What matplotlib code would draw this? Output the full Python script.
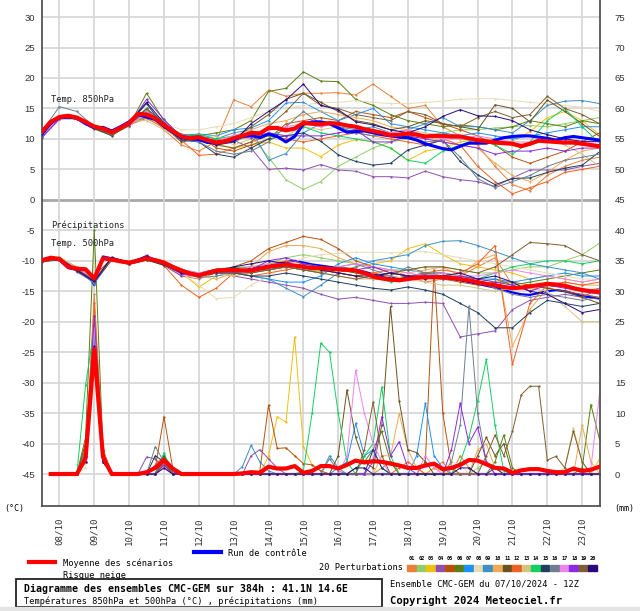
import numpy as np
import matplotlib.pyplot as plt
from matplotlib.lines import Line2D
from matplotlib.patches import Rectangle

W, H = 640, 611
MONO = 'DejaVu Sans Mono'
SANS = 'Liberation Sans'
RR_BASE = -45  # 0 mm of precipitation sits at -45 on the left scale

# time axis: hours since 07/10/2024 12Z
hours_6 = np.arange(0, 385, 6)
hours_12 = np.arange(0, 385, 12)
hours_rr = np.arange(6, 385, 6)
day_hours = np.arange(12, 384, 24)
day_labels = ['08/10', '09/10', '10/10', '11/10', '12/10', '13/10', '14/10', '15/10',
              '16/10', '17/10', '18/10', '19/10', '20/10', '21/10', '22/10', '23/10']

# ensemble mean (6h)
mean_t850 = [11.2, 12.8, 13.6, 13.8, 13.5, 12.8, 12.0, 11.7, 11.1, 11.8, 12.6, 14.1, 14.0,
             13.4, 12.3, 11.3, 10.4, 10.1, 10.3, 9.8, 9.4, 9.6, 10.1, 10.5, 11.0, 10.9,
             11.8, 11.8, 11.4, 11.7, 12.6, 12.5, 12.4, 12.6, 12.5, 12.2, 12.0, 11.6, 11.3,
             11.0, 10.6, 10.7, 10.9, 10.7, 10.4, 10.5, 10.5, 10.4, 10.4, 10.1, 9.8, 9.6,
             9.4, 9.3, 9.2, 8.8, 9.2, 9.7, 9.6, 9.5, 9.4, 9.4, 9.2, 9.0, 8.8]
mean_t500 = [-9.9, -9.5, -9.7, -11.0, -11.3, -11.4, -12.9, -9.6, -9.8, -10.1, -10.3, -10.0,
             -9.6, -9.9, -10.3, -11.0, -11.6, -12.1, -12.4, -12.0, -11.6, -11.5, -11.5,
             -11.6, -11.6, -11.3, -11.0, -10.8, -10.6, -10.8, -11.0, -11.2, -11.2, -11.3,
             -11.4, -11.5, -11.6, -12.0, -12.6, -12.9, -13.1, -13.2, -13.0, -12.8, -12.7,
             -12.7, -12.7, -12.8, -13.0, -13.2, -13.5, -13.8, -14.0, -14.3, -14.5, -14.4,
             -14.2, -14.0, -13.8, -13.9, -14.1, -14.5, -14.8, -15.0, -15.1]
mean_rr = [0, 0, 0, 0, 2.6, 20.5, 2.8, 0, 0, 0, 0, 0.3, 1.0, 2.3, 0.9, 0,
           0, 0, 0, 0, 0, 0, 0.1, 0.3, 0.2, 1.2, 0.9, 0.9, 1.3, 0.2, 0.5, 1.3,
           1.3, 0.9, 1.5, 2.2, 1.9, 2.1, 2.0, 1.7, 1.4, 1.0, 1.0, 1.4, 1.7, 0.8, 1.0, 1.5,
           2.3, 2.2, 1.6, 1.0, 0.9, 0.2, 0.6, 0.8, 0.8, 0.5, 0.3, 0.3, 0.9, 0.5, 0.7, 1.2]

# control run (6h)
ctrl_t850 = [10.8, 12.6, 13.5, 13.6, 13.4, 12.5, 11.8, 11.9, 11.3, 12.0, 12.8, 14.0, 13.6,
             13.2, 12.1, 11.1, 10.2, 10.0, 9.9, 9.4, 9.4, 9.6, 9.8, 10.4, 10.6, 10.2, 10.8,
             10.4, 9.5, 10.4, 12.4, 12.8, 12.8, 12.5, 11.8, 11.1, 11.2, 11.3, 11.0, 10.7,
             10.5, 10.3, 10.2, 9.8, 9.2, 8.8, 8.4, 8.2, 8.8, 9.3, 9.3, 9.3, 9.8, 10.2, 10.4,
             10.5, 10.5, 10.3, 10.1, 9.8, 10.2, 10.4, 10.2, 10.0, 9.8]
ctrl_t500 = [-10.0, -9.7, -9.9, -11.2, -11.5, -11.6, -14.0, -9.3, -9.6, -10.0, -10.2, -9.8,
             -9.5, -9.8, -10.2, -10.9, -11.5, -12.0, -12.2, -11.8, -11.5, -11.4, -11.4,
             -11.3, -11.2, -11.0, -10.8, -10.5, -10.2, -10.0, -10.3, -10.6, -10.8, -11.0,
             -11.2, -11.3, -11.5, -11.8, -12.2, -12.5, -12.8, -12.9, -12.7, -12.5, -12.4,
             -12.6, -12.8, -13.0, -13.2, -13.5, -13.8, -14.1, -14.4, -14.8, -15.2, -15.5,
             -15.6, -15.3, -15.0, -14.8, -15.0, -15.4, -15.8, -16.0, -16.2]
ctrl_rr = {30: 3, 36: 20, 42: 3, 84: 2, 90: 0.5}

# 20 perturbations: T850 and T500 every 12h, precipitation (hour: mm) where not zero
t850_m01 = [11.0, 13.4, 13.2, 11.8, 10.8, 12.4, 14.5, 11.5, 9.0, 8.0, 9.6, 16.4, 15.3, 18.0, 17.0, 17.5, 17.5,
            17.6, 17.2, 19.0, 17.0, 15.0, 15.5, 12.0, 10.5, 9.0, 5.5, 2.5, 1.5, 4.0, 5.5, 6.5, 7.0]
t850_m02 = [10.5, 13.3, 13.4, 12.2, 11.0, 12.2, 13.8, 12.0, 10.2, 10.0, 9.0, 9.5, 10.5, 7.0, 3.3, 1.7, 3.0,
            5.5, 7.0, 8.5, 9.5, 10.0, 10.5, 11.0, 11.5, 11.5, 11.8, 12.0, 12.2, 12.0, 12.5, 13.0, 13.5]
t850_m03 = [11.0, 13.5, 13.3, 11.8, 11.2, 12.8, 13.5, 12.0, 10.0, 9.6, 9.2, 8.5, 9.0, 9.5, 8.5, 8.5, 7.1,
            9.0, 9.9, 9.6, 8.5, 6.5, 8.0, 8.5, 9.5, 9.9, 9.8, 9.6, 11.2, 13.5, 14.5, 13.0, 10.7]
t850_m04 = [10.3, 13.2, 13.4, 12.0, 11.0, 12.3, 13.8, 12.2, 10.0, 9.8, 9.0, 9.8, 8.5, 5.0, 5.2, 4.9, 5.8,
            4.9, 4.7, 3.8, 3.8, 3.6, 4.7, 3.8, 3.3, 3.0, 2.2, 3.6, 4.9, 4.9, 4.9, 5.5, 6.0]
t850_m05 = [11.2, 13.8, 13.6, 12.2, 11.0, 12.5, 14.2, 12.5, 10.5, 10.6, 8.5, 8.0, 9.0, 10.0, 12.5, 13.0, 13.5,
            13.0, 14.5, 14.0, 13.5, 14.5, 13.5, 12.5, 11.5, 10.5, 9.0, 7.0, 6.0, 7.0, 8.0, 9.5, 11.0]
t850_m06 = [11.0, 13.5, 13.4, 11.6, 10.6, 12.2, 17.5, 13.0, 10.2, 10.5, 11.0, 11.5, 13.0, 17.8, 18.3, 21.0, 19.5,
            19.4, 16.5, 15.5, 14.0, 13.0, 12.5, 12.0, 12.3, 12.0, 11.5, 12.0, 13.0, 12.5, 12.0, 13.0, 12.5]
t850_m07 = [11.0, 13.6, 13.4, 12.1, 11.3, 12.7, 14.3, 12.6, 10.6, 10.8, 10.5, 11.5, 11.8, 13.0, 15.9, 16.0, 14.5,
            13.0, 14.0, 15.0, 12.5, 12.0, 11.5, 11.0, 10.5, 11.0, 10.5, 10.0, 10.5, 11.0, 11.5, 12.0, 12.0]
t850_m08 = [11.0, 13.2, 13.3, 11.9, 11.2, 12.5, 13.2, 12.5, 11.5, 11.5, 12.0, 12.5, 13.5, 14.5, 15.0, 15.5, 16.0,
            16.0, 16.3, 16.0, 15.8, 15.8, 16.0, 16.2, 16.5, 16.6, 16.6, 16.3, 16.0, 15.8, 15.5, 15.2, 14.5]
t850_m09 = [11.3, 13.5, 13.6, 12.3, 11.4, 12.6, 13.6, 12.4, 10.8, 10.5, 10.0, 11.0, 11.5, 6.5, 7.6, 11.0, 12.5,
            12.0, 11.5, 12.0, 11.0, 11.5, 12.5, 13.5, 12.0, 12.0, 11.5, 11.0, 13.0, 15.5, 16.2, 16.3, 15.8]
t850_m10 = [11.2, 13.7, 13.5, 12.0, 11.0, 12.4, 13.9, 12.2, 10.0, 9.8, 9.5, 10.5, 11.5, 12.5, 13.0, 14.0, 14.5,
            14.0, 13.5, 13.0, 12.0, 11.5, 10.5, 9.5, 9.0, 8.5, 6.0, 4.0, 3.0, 4.5, 6.5, 8.0, 8.5]
t850_m11 = [11.1, 13.5, 13.3, 12.0, 11.0, 12.7, 14.8, 12.0, 9.5, 10.0, 9.8, 10.0, 12.0, 14.0, 16.5, 17.5, 16.0,
            14.5, 13.0, 12.5, 11.5, 12.0, 13.0, 12.5, 12.0, 11.5, 15.6, 15.0, 12.8, 16.4, 14.5, 12.5, 10.4]
t850_m12 = [11.0, 13.3, 13.5, 12.1, 11.2, 12.3, 13.4, 11.8, 9.8, 7.3, 7.5, 8.5, 9.5, 10.5, 10.0, 9.5, 10.0,
            10.5, 11.0, 10.5, 10.0, 9.5, 9.0, 10.0, 9.0, 5.5, 3.0, 1.0, 2.0, 3.0, 4.5, 5.0, 5.5]
t850_m13 = [11.4, 13.6, 13.7, 12.3, 11.3, 12.9, 13.0, 11.5, 10.0, 10.4, 10.5, 9.0, 10.0, 11.0, 10.5, 12.0, 11.5,
            12.0, 11.0, 10.5, 10.5, 11.5, 11.0, 10.5, 10.0, 9.5, 9.5, 9.0, 9.5, 10.0, 9.0, 7.5, 5.5]
t850_m14 = [11.2, 13.8, 13.5, 12.0, 10.8, 12.5, 14.8, 13.0, 10.5, 10.8, 10.0, 10.5, 11.0, 10.5, 11.5, 12.0, 11.0,
            10.5, 10.0, 9.5, 8.5, 6.5, 6.0, 8.0, 9.0, 10.0, 9.0, 7.5, 9.5, 13.0, 15.0, 12.0, 9.3]
t850_m15 = [11.0, 13.5, 13.4, 11.8, 10.5, 12.6, 15.8, 12.0, 9.8, 9.5, 7.5, 7.0, 8.5, 10.0, 10.5, 11.0, 9.6,
            7.4, 6.3, 5.7, 6.0, 8.2, 9.0, 9.8, 6.3, 4.1, 2.5, 3.5, 3.6, 4.5, 5.2, 5.7, 7.9]
t850_m16 = [11.3, 15.3, 14.5, 12.0, 10.8, 12.5, 15.0, 12.5, 10.0, 9.5, 8.0, 7.5, 8.0, 9.5, 12.0, 14.5, 12.5,
            12.0, 11.0, 10.5, 11.0, 10.5, 9.5, 9.8, 7.0, 3.5, 2.0, 3.0, 4.0, 5.5, 6.5, 7.0, 7.5]
t850_m17 = [10.8, 13.4, 13.6, 12.2, 11.2, 12.0, 14.5, 12.7, 10.6, 10.2, 9.6, 10.6, 11.0, 11.5, 12.0, 12.5, 12.0,
            12.5, 12.0, 11.5, 11.0, 11.5, 10.5, 10.0, 10.0, 10.5, 10.0, 9.5, 9.5, 10.0, 9.8, 9.5, 9.5]
t850_m18 = [10.2, 13.3, 13.5, 12.0, 11.1, 12.3, 16.5, 13.2, 10.3, 10.0, 9.5, 10.2, 10.2, 11.0, 10.5, 10.5, 10.5,
            11.0, 11.5, 9.5, 9.5, 10.5, 10.0, 9.5, 9.0, 8.5, 7.5, 8.0, 8.0, 8.5, 8.0, 8.5, 8.5]
t850_m19 = [11.1, 13.6, 13.4, 12.0, 10.6, 12.2, 15.0, 12.5, 10.3, 10.0, 9.0, 8.5, 9.5, 12.0, 14.5, 17.5, 15.5,
            15.0, 14.0, 13.5, 13.0, 14.5, 14.0, 12.5, 12.0, 13.5, 14.5, 13.5, 14.0, 17.0, 15.0, 14.0, 12.5]
t850_m20 = [11.0, 13.7, 13.6, 12.1, 11.3, 12.7, 16.0, 12.6, 10.2, 10.0, 9.0, 9.5, 12.5, 14.5, 16.4, 19.0, 15.5,
            14.8, 12.8, 12.3, 11.5, 11.0, 12.0, 13.7, 14.8, 13.8, 13.7, 13.0, 11.5, 10.7, 10.0, 9.6, 9.6]

t500_m01 = [-10.0, -9.5, -11.5, -13.5, -9.5, -10.5, -9.5, -10.5, -12.5, -13.0, -12.0, -11.0, -11.5, -10.5, -10.0, -10.5, -11.0,
            -12.0, -12.5, -12.0, -11.5, -12.5, -13.5, -13.0, -12.5, -11.0, -9.5, -14.0, -15.0, -13.5, -14.0, -15.0, -14.5]
t500_m02 = [-9.8, -9.6, -11.0, -13.0, -9.7, -10.2, -9.8, -10.5, -11.5, -12.0, -11.5, -11.0, -11.0, -10.5, -9.5, -9.0, -9.5,
            -10.0, -10.5, -11.0, -11.5, -11.5, -11.0, -11.0, -11.5, -12.0, -12.0, -11.5, -11.0, -11.0, -10.0, -9.0, -7.1]
t500_m03 = [-10.1, -9.6, -11.4, -13.2, -9.8, -10.4, -9.7, -10.6, -12.0, -14.3, -12.5, -12.0, -11.5, -11.0, -11.0, -11.5, -11.8,
            -11.5, -11.0, -10.5, -10.0, -8.0, -7.2, -9.0, -10.5, -11.0, -11.5, -12.0, -13.0, -12.5, -13.0, -13.5, -13.0]
t500_m04 = [-10.2, -9.8, -11.8, -13.6, -9.9, -10.6, -9.5, -10.8, -12.5, -12.5, -12.0, -12.5, -13.0, -13.5, -14.0, -14.5, -15.5,
            -16.3, -16.0, -16.5, -17.0, -17.0, -16.8, -17.0, -22.5, -22.0, -21.5, -18.0, -16.5, -16.0, -15.5, -16.0, -14.5]
t500_m05 = [-9.9, -9.5, -11.5, -12.5, -9.6, -10.4, -9.3, -10.2, -11.5, -12.5, -12.0, -11.0, -10.0, -8.0, -7.0, -6.0, -6.5,
            -8.0, -10.0, -11.0, -12.0, -12.5, -12.5, -13.0, -13.5, -14.0, -13.5, -13.5, -14.0, -14.5, -15.0, -15.5, -16.0]
t500_m06 = [-9.8, -9.4, -11.2, -13.0, -9.6, -10.1, -9.6, -10.4, -11.8, -12.2, -11.8, -11.5, -11.0, -11.5, -11.0, -10.5, -11.0,
            -11.5, -12.0, -12.5, -12.0, -12.5, -13.0, -12.5, -13.0, -13.5, -13.0, -14.0, -13.5, -13.0, -12.5, -12.0, -11.5]
t500_m07 = [-10.0, -9.8, -11.3, -13.8, -9.5, -10.3, -9.4, -10.5, -11.5, -12.0, -11.5, -11.8, -12.5, -13.0, -13.5, -13.5, -12.5,
            -10.5, -9.5, -10.5, -11.0, -11.5, -12.0, -12.0, -12.5, -13.0, -13.0, -13.5, -13.0, -12.5, -12.0, -12.5, -12.5]
t500_m08 = [-9.7, -9.4, -11.0, -12.8, -10.0, -10.0, -9.5, -10.0, -12.0, -14.0, -16.2, -16.0, -14.0, -12.5, -11.0, -9.5, -9.0,
            -8.8, -8.6, -8.6, -8.7, -8.6, -8.5, -9.0, -9.5, -10.0, -10.5, -11.0, -11.5, -12.0, -12.5, -13.0, -13.0]
t500_m09 = [-9.8, -9.6, -11.3, -13.0, -9.7, -10.2, -9.4, -10.2, -11.8, -12.8, -12.5, -12.0, -12.5, -13.0, -14.5, -15.9, -14.0,
            -12.0, -11.0, -10.0, -9.5, -9.0, -7.5, -6.8, -6.7, -7.5, -8.5, -9.5, -10.5, -11.0, -11.5, -12.0, -13.0]
t500_m10 = [-9.8, -9.6, -11.0, -13.0, -9.8, -10.5, -9.5, -10.0, -11.5, -12.5, -13.0, -12.0, -11.0, -8.5, -7.5, -7.5, -8.0,
            -9.5, -10.5, -11.0, -11.5, -12.0, -11.5, -11.0, -12.5, -10.0, -9.0, -24.0, -18.0, -14.5, -13.5, -14.0, -14.0]
t500_m11 = [-10.0, -9.7, -11.6, -13.3, -9.9, -10.5, -9.8, -10.6, -11.8, -12.5, -12.0, -11.8, -11.5, -11.0, -10.5, -11.0, -11.5,
            -12.0, -12.5, -13.0, -13.0, -12.5, -12.0, -12.5, -13.0, -13.5, -14.0, -14.5, -14.0, -14.5, -15.0, -16.0, -17.0]
t500_m12 = [-10.2, -9.8, -11.2, -13.5, -9.5, -10.2, -9.8, -10.8, -14.0, -16.0, -14.5, -12.0, -12.5, -12.0, -11.5, -11.0, -11.5,
            -12.0, -12.5, -12.0, -12.5, -13.0, -12.0, -11.5, -12.0, -10.5, -7.5, -27.0, -17.0, -14.0, -13.5, -14.0, -13.5]
t500_m13 = [-9.9, -9.5, -11.1, -12.7, -9.9, -10.3, -9.7, -10.1, -11.4, -12.0, -12.0, -12.5, -12.0, -11.5, -11.0, -11.5, -12.0,
            -12.5, -13.0, -13.0, -12.5, -13.0, -13.5, -14.0, -14.0, -14.5, -15.0, -14.5, -14.5, -15.0, -17.5, -20.0, -20.0]
t500_m14 = [-10.0, -9.6, -11.5, -13.2, -9.7, -10.4, -9.5, -10.4, -11.6, -12.3, -11.5, -11.0, -11.5, -11.5, -11.0, -11.5, -11.5,
            -11.0, -11.5, -12.5, -13.5, -13.0, -12.5, -12.0, -12.5, -13.0, -12.0, -11.0, -10.5, -10.0, -10.0, -10.5, -10.0]
t500_m15 = [-10.1, -9.8, -11.7, -13.4, -9.8, -10.6, -9.9, -10.7, -12.0, -12.5, -12.0, -12.0, -12.5, -12.5, -12.0, -12.5, -13.0,
            -13.5, -14.0, -14.5, -14.8, -14.3, -14.8, -15.5, -17.0, -18.5, -21.0, -21.0, -18.5, -16.5, -17.0, -17.5, -17.0]
t500_m16 = [-9.9, -9.5, -11.4, -13.1, -9.6, -10.2, -9.6, -10.3, -11.7, -12.2, -11.8, -11.5, -12.0, -11.5, -11.0, -11.5, -12.0,
            -11.0, -10.5, -11.5, -12.5, -11.0, -12.0, -12.0, -13.0, -13.5, -14.5, -15.5, -16.0, -15.5, -16.0, -16.5, -16.0]
t500_m17 = [-10.0, -9.7, -11.2, -13.0, -9.8, -10.3, -9.7, -10.2, -11.5, -12.0, -11.5, -11.5, -11.0, -10.5, -10.5, -11.0, -11.5,
            -11.0, -10.5, -11.0, -11.5, -12.0, -12.5, -12.0, -12.5, -12.5, -12.0, -11.5, -12.0, -12.5, -13.0, -13.5, -13.0]
t500_m18 = [-10.1, -9.6, -11.5, -13.3, -9.5, -10.4, -9.1, -10.4, -12.2, -12.5, -12.0, -12.0, -11.5, -10.0, -9.5, -10.5, -11.0,
            -11.5, -11.5, -11.0, -12.0, -12.5, -12.5, -13.0, -12.5, -13.0, -13.5, -14.0, -15.0, -14.0, -14.5, -15.0, -15.5]
t500_m19 = [-10.0, -9.8, -11.5, -13.2, -9.8, -10.5, -9.8, -10.5, -11.5, -12.5, -12.0, -12.0, -12.0, -11.5, -11.0, -11.5, -12.0,
            -12.5, -13.0, -12.5, -12.0, -11.5, -11.0, -11.0, -11.5, -12.0, -11.0, -9.0, -7.0, -7.2, -7.5, -9.0, -10.0]
t500_m20 = [-10.0, -9.6, -11.5, -13.4, -9.4, -10.3, -9.2, -10.6, -12.0, -12.3, -11.8, -11.0, -10.5, -10.0, -10.5, -11.0, -11.5,
            -12.0, -12.5, -12.5, -12.0, -12.5, -13.0, -12.5, -12.0, -13.0, -12.5, -13.5, -15.0, -15.5, -17.0, -18.5, -18.0]

rr_m01 = {30: 3, 36: 29.5, 42: 3, 78: 1.5, 84: 3, 90: 0.5, 234: 1, 240: 2, 270: 1, 276: 2, 288: 3, 294: 1}
rr_m02 = {30: 2, 36: 22, 42: 4, 84: 2, 300: 1, 306: 2, 312: 1, 366: 1}
rr_m03 = {30: 4, 36: 18, 42: 2, 84: 1.5, 156: 3, 162: 9.4, 168: 8.5, 174: 22.5, 180: 4.5, 186: 1.5,
          192: 0.5, 270: 1, 276: 0.5, 384: 2.5}
rr_m04 = {30: 2, 36: 24, 42: 3, 72: 2.8, 78: 2.5, 84: 1, 144: 3, 150: 4, 156: 2.5, 162: 1}
rr_m05 = {30: 5, 36: 25, 42: 2, 78: 1, 84: 9.4, 90: 1, 150: 0.5, 156: 11.3, 162: 4.2, 168: 4.3, 174: 3.0,
          180: 1.7, 186: 1.5, 192: 0.5, 264: 2, 270: 33.5, 276: 10, 282: 1}
rr_m06 = {30: 6, 36: 40, 42: 4, 84: 3, 90: 1, 216: 1, 222: 2, 228: 4, 234: 7, 240: 2, 312: 2, 318: 6.4,
          324: 1, 372: 1, 378: 11.4, 384: 5.6}
rr_m07 = {30: 3, 36: 26, 42: 2, 84: 2, 204: 1, 210: 2, 216: 8.3, 222: 3, 228: 4, 234: 1, 258: 3, 264: 11.6,
          270: 3, 276: 1}
rr_m08 = {30: 1, 36: 16, 42: 2, 84: 1, 276: 1, 282: 2, 288: 1.5}
rr_m09 = {30: 2, 36: 21, 42: 3, 78: 1, 84: 2.5, 138: 1.2, 144: 4.7, 150: 2, 156: 0.5, 198: 3, 204: 1}
rr_m10 = {30: 3, 36: 27, 42: 3, 84: 2, 234: 3, 240: 3, 246: 9.9, 252: 4, 258: 1, 300: 4, 306: 5, 312: 1,
          372: 8, 378: 2}
rr_m11 = {30: 4, 36: 23, 42: 2, 84: 3, 204: 3, 210: 13.8, 216: 6, 222: 2, 228: 1, 234: 8, 240: 27.5,
          246: 12, 252: 4, 258: 3.5, 264: 2, 300: 3, 306: 6, 312: 3, 318: 5}
rr_m12 = {30: 2, 36: 28, 42: 4, 84: 1.5, 246: 1, 252: 2, 258: 1}
rr_m13 = {30: 2, 36: 19, 42: 2, 84: 1, 360: 1, 366: 7.5, 372: 2}
rr_m14 = {30: 14.6, 36: 24, 42: 2, 84: 3.5, 180: 0.5, 186: 10, 192: 21.5, 198: 20.0, 204: 10, 210: 2,
          222: 3, 228: 5, 234: 14.3, 240: 3, 288: 2, 294: 6, 300: 12, 306: 18.8, 312: 8, 318: 0.5}
rr_m15 = {30: 3, 36: 20, 42: 3, 78: 3, 84: 2, 228: 4, 234: 1, 312: 1}
rr_m16 = {30: 4, 36: 22, 42: 3, 78: 4.5, 84: 2, 198: 2.5, 204: 0.5, 282: 2, 288: 8, 294: 27.5, 300: 10, 306: 2}
rr_m17 = {30: 2, 36: 24, 42: 2, 84: 1, 210: 3, 216: 17, 222: 10, 228: 5, 234: 2, 264: 3, 270: 1,
          378: 1, 384: 13.3}
rr_m18 = {30: 3, 36: 26, 42: 3, 84: 1.5, 228: 2, 234: 9.4, 240: 3, 246: 5.3, 252: 1, 282: 4, 288: 11.6,
          294: 5, 300: 7.7, 306: 2}
rr_m19 = {30: 5, 36: 20, 42: 2, 84: 2, 222: 4, 228: 11.8, 234: 3, 306: 3, 312: 6.4, 318: 3, 324: 7,
          330: 13, 336: 14.4, 342: 14.4, 348: 2.3, 354: 2.9, 360: 1, 366: 7, 372: 2}
rr_m20 = {30: 2, 36: 21, 42: 2, 84: 1, 216: 1, 222: 1, 288: 1, 294: 1}

member_colors = ['#e8803a', '#8fce6a', '#f0c010', '#9050b0', '#b8520a', '#5a7f10', '#1e90ff',
                 '#e8dcb5', '#3d8fc4', '#eeaa55', '#6b5220', '#f06020', '#d4c484', '#10d060',
                 '#1f3f5f', '#6f7f8f', '#ee82ee', '#8a2be2', '#7f5f2f', '#2a0a7a']

members = [
    (t850_m01, t500_m01, rr_m01), (t850_m02, t500_m02, rr_m02), (t850_m03, t500_m03, rr_m03),
    (t850_m04, t500_m04, rr_m04), (t850_m05, t500_m05, rr_m05), (t850_m06, t500_m06, rr_m06),
    (t850_m07, t500_m07, rr_m07), (t850_m08, t500_m08, rr_m08), (t850_m09, t500_m09, rr_m09),
    (t850_m10, t500_m10, rr_m10), (t850_m11, t500_m11, rr_m11), (t850_m12, t500_m12, rr_m12),
    (t850_m13, t500_m13, rr_m13), (t850_m14, t500_m14, rr_m14), (t850_m15, t500_m15, rr_m15),
    (t850_m16, t500_m16, rr_m16), (t850_m17, t500_m17, rr_m17), (t850_m18, t500_m18, rr_m18),
    (t850_m19, t500_m19, rr_m19), (t850_m20, t500_m20, rr_m20),
]


def rr_series(spikes):
    return np.array([spikes.get(h, 0.0) for h in hours_rr]) + RR_BASE


def fx(px):
    return px / W


def fy(py):
    return 1 - py / H


fig = plt.figure(figsize=(W / 100, H / 100), dpi=100)
ax = fig.add_axes([fx(42), fy(506), 557.6 / W, 506 / H])
ax.set_xlim(0, 384)
ax.set_ylim(-50.25, 32.8)

# grid
for v in range(-45, 31, 5):
    if v == 0:
        ax.axhline(v, color='#a8a8a8', lw=2.0, zorder=0)
    else:
        ax.axhline(v, color='#d4d4d4', lw=1.2, zorder=0)
for h in day_hours:
    ax.axvline(h, color='#d4d4d4', lw=1.2, zorder=0)

# control run under the members in the lower panel, on top in the upper one
ax.plot(hours_rr, rr_series(ctrl_rr), color='#0000ff', lw=1.6, zorder=1)
ax.plot(hours_6, ctrl_t500, color='#0000ff', lw=1.6, zorder=1)
ax.plot(hours_6, ctrl_t850, color='#0000ff', lw=2.2, zorder=3)

# perturbations
for (t850, t500, rr), c in zip(members, member_colors):
    kw = dict(color=c, lw=0.7, marker='o', ms=1.6, mew=0, zorder=2)
    ax.plot(hours_rr, rr_series(rr), **kw)
    ax.plot(hours_12, t850, **kw)
    ax.plot(hours_12, t500, **kw)

# ensemble mean
ax.plot(hours_rr, np.array(mean_rr) + RR_BASE, color='#ff0000', lw=3.0, zorder=4)
ax.plot(hours_6, mean_t850, color='#ff0000', lw=3.0, zorder=4)
ax.plot(hours_6, mean_t500, color='#ff0000', lw=3.0, zorder=4)

# in-plot labels
ax.text(6, 16.5, 'Temp. 850hPa', family=MONO, fontsize=6.3, va='center', color='#222222')
ax.text(6, -4.25, 'Précipitations', family=MONO, fontsize=6.3, va='center', color='#222222')
ax.text(6, -7.15, 'Temp. 500hPa', family=MONO, fontsize=6.3, va='center', color='#222222')

# axes styling
left_ticks = list(range(-45, 31, 5))
ax.set_yticks(left_ticks)
ax.set_yticklabels([str(v) for v in left_ticks], family=SANS, fontsize=6.8, color='#333333')
ax.tick_params(axis='y', length=0, pad=5)
ax.set_xticks(day_hours)
ax.set_xticklabels(day_labels, rotation=90, family=MONO, fontsize=6.6, color='#333333')
ax.tick_params(axis='x', length=0, pad=8)
for side in ['left', 'bottom', 'right']:
    ax.spines[side].set_color('#555555')
    ax.spines[side].set_linewidth(1.3)
ax.spines['top'].set_visible(False)

ax2 = ax.twinx()
ax2.set_ylim(ax.get_ylim())
ax2.set_yticks(left_ticks)
ax2.set_yticklabels([str(v + 45) for v in left_ticks], family=SANS, fontsize=6.8, color='#333333')
ax2.tick_params(axis='y', length=0, pad=11)
for s in ax2.spines.values():
    s.set_visible(False)

# units
fig.text(fx(4), fy(509), '(°C)', family=MONO, fontsize=6, va='center')
fig.text(fx(614), fy(509), '(mm)', family=MONO, fontsize=6, va='center')

# legend
fig.add_artist(Line2D([fx(29), fx(55)], [fy(562)] * 2, color='#ff0000', lw=3.0))
fig.text(fx(63), fy(563), 'Moyenne des scénarios', family=MONO, fontsize=6.2, va='center')
fig.text(fx(63), fy(575), 'Risque neige', family=MONO, fontsize=6.2, va='center')
fig.add_artist(Line2D([fx(194), fx(221)], [fy(552)] * 2, color='#0000ff', lw=3.0))
fig.text(fx(228), fy(553), 'Run de contrôle', family=MONO, fontsize=6.2, va='center')
fig.text(fx(403), fy(568), '20 Perturbations', family=MONO, fontsize=6.2, va='center', ha='right')
sw = (598 - 407) / 20
for i, c in enumerate(member_colors):
    x0 = 407 + i * sw
    fig.add_artist(Rectangle((fx(x0), fy(571)), (sw - 1) / W, 6 / H, color=c,
                             transform=fig.transFigure))
    fig.text(fx(x0 + sw / 2), fy(559), f'{i + 1:02d}', family=MONO, fontsize=3.8,
             ha='center', va='center', weight='bold')

# title box
fig.add_artist(Rectangle((fx(16), fy(607)), 366 / W, 28 / H, fill=False, ec='#222222', lw=1.3,
                         transform=fig.transFigure))
fig.text(fx(24), fy(589), 'Diagramme des ensembles CMC-GEM sur 384h : 41.1N 14.6E',
         family=MONO, fontsize=7.1, weight='bold', va='center')
fig.text(fx(24), fy(601), 'Températures 850hPa et 500hPa (°C) , précipitations (mm)',
         family=MONO, fontsize=6.2, va='center')
fig.text(fx(390), fy(584), 'Ensemble CMC-GEM du 07/10/2024 - 12Z', family=MONO, fontsize=6.2,
         va='center')
fig.text(fx(390), fy(601), 'Copyright 2024 Meteociel.fr', family=MONO, fontsize=7.6,
         weight='bold', va='center')
fig.add_artist(Rectangle((0, 0), 1, 4 / H, color='#e4e4e4', transform=fig.transFigure))

fig.savefig('out.png', dpi=100)
